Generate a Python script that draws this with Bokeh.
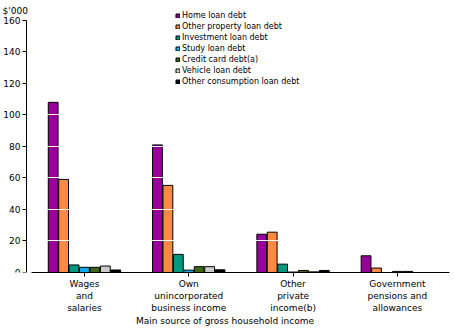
from bokeh.plotting import figure
from bokeh.models import ColumnDataSource, Range1d, FixedTicker, Label, Legend
from bokeh.transform import dodge
from bokeh.embed import file_html
from bokeh.resources import INLINE

categories = ["Wages\nand\nsalaries",
              "Own\nunincorporated\nbusiness income",
              "Other\nprivate\nincome(b)",
              "Government\npensions and\nallowances"]

series_names = ["Home loan debt", "Other property loan debt", "Investment loan debt",
                "Study loan debt", "Credit card debt(a)", "Vehicle loan debt",
                "Other consumption loan debt"]

home_loan = [108.0, 81.0, 24.3, 10.6]
other_property_loan = [59.1, 55.3, 25.6, 2.8]
investment_loan = [4.8, 11.5, 5.3, 0.0]
study_loan = [3.3, 1.5, 0.3, 0.7]
credit_card = [3.3, 3.7, 1.3, 0.7]
vehicle_loan = [4.1, 3.7, 0.4, 0.0]
other_consumption_loan = [1.6, 1.7, 1.3, 0.0]

y_ticks = [0, 20, 40, 60, 80, 100, 120, 140, 160]

series_values = [home_loan, other_property_loan, investment_loan, study_loan,
                 credit_card, vehicle_loan, other_consumption_loan]
colors = ["#990099", "#FF8844", "#00997F", "#11AAEE", "#3F6618", "#CCCCCC", "#000000"]

FONT = "DejaVu Sans"

# frame spans the whole width; y axis is drawn at a fixed location inside it
X_START, X_END = -0.805, 3.5
Y_AXIS_AT = -0.556
X_AXIS_START = -0.508
Y_MAX = 160
Y_END = 171.4

p = figure(width=452, height=328, output_backend="svg", toolbar_location=None,
           x_range=Range1d(X_START, X_END), y_range=Range1d(0, Y_END),
           min_border_left=0, min_border_right=3, min_border_top=2, min_border_bottom=0)
p.outline_line_color = None
p.background_fill_color = "white"
p.border_fill_color = "white"

data = {"x": list(range(len(categories)))}
for name, vals in zip(series_names, series_values):
    data[name] = vals
source = ColumnDataSource(data)

n = len(series_names)
step = 0.1
renderers = []
for j, (name, color) in enumerate(zip(series_names, colors)):
    r = p.vbar(x=dodge("x", (j - (n - 1) / 2) * step), top=name, width=0.094,
               source=source, fill_color=color, line_color="black", line_width=1)
    renderers.append((name, r))

legend = Legend(items=[(nm, [r]) for nm, r in renderers], location=(175, 186),
                glyph_width=5, glyph_height=5, label_height=8, spacing=2,
                label_standoff=2, padding=0, margin=0, border_line_color=None,
                background_fill_alpha=0, label_text_font=FONT,
                label_text_font_size="8px", label_text_color="black")
p.add_layout(legend, "center")

# white grid drawn over the bars, but under the axes and the legend
p.xgrid.visible = False
p.ygrid.grid_line_color = "white"
p.ygrid.grid_line_width = 1
p.ygrid.level = "guide"
p.ygrid.ticker = FixedTicker(ticks=y_ticks)

p.yaxis.ticker = FixedTicker(ticks=y_ticks)
p.yaxis.fixed_location = Y_AXIS_AT
p.yaxis.bounds = (0, Y_MAX)
p.xaxis.ticker = FixedTicker(ticks=list(range(len(categories))))
p.xaxis.major_label_overrides = {i: c for i, c in enumerate(categories)}
p.xaxis.bounds = (X_AXIS_START, X_END)

for ax in (p.xaxis, p.yaxis):
    ax.level = "overlay"
    ax.axis_line_color = "black"
    ax.axis_line_width = 1
    ax.major_tick_line_color = "black"
    ax.major_tick_in = 0
    ax.major_tick_out = 4
    ax.minor_tick_line_color = None
    ax.major_label_text_font = FONT
    ax.major_label_text_font_size = "9px"
    ax.major_label_text_color = "black"
    ax.axis_label_text_font = FONT
    ax.axis_label_text_font_size = "9px"
    ax.axis_label_text_font_style = "normal"
    ax.axis_label_text_color = "black"

p.xaxis.major_label_standoff = 2
p.yaxis.major_label_standoff = 2
p.xaxis.axis_label = "Main source of gross household income"
p.xaxis.axis_label_standoff = 0

unit = Label(x=X_START, y=Y_MAX, x_offset=2, y_offset=9, text="$'000",
             text_font=FONT, text_font_size="9px", text_color="black",
             text_baseline="alphabetic", text_align="left")
p.add_layout(unit)

open("out.html", "w").write(file_html(p, INLINE))
